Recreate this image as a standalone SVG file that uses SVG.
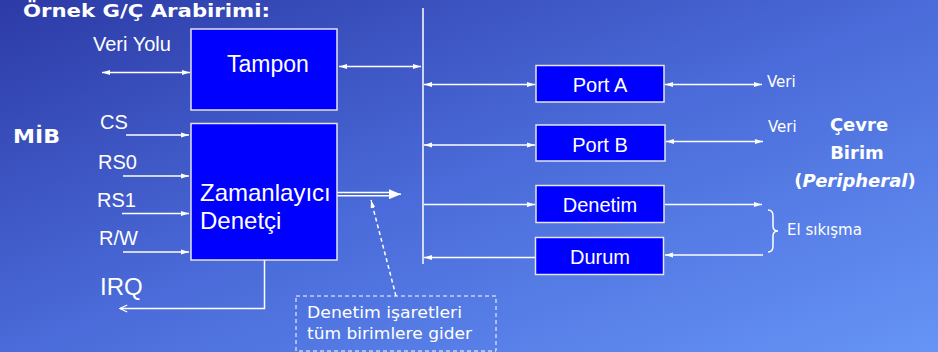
<svg xmlns="http://www.w3.org/2000/svg" width="938" height="352" viewBox="0 0 938 352">
<defs>
<linearGradient id="bg" x1="0" y1="0" x2="1" y2="1">
<stop offset="0" stop-color="#2c3aa6"/>
<stop offset="0.5" stop-color="#4a6bd9"/>
<stop offset="1" stop-color="#6694f6"/>
</linearGradient>
<marker id="ah" viewBox="0 0 10 6" refX="10" refY="3" markerWidth="8" markerHeight="6" orient="auto-start-reverse" markerUnits="userSpaceOnUse">
<path d="M0,0 L10,3 L0,6 z" fill="#fff"/>
</marker>
<marker id="big" viewBox="0 0 12 10" refX="12" refY="5" markerWidth="12" markerHeight="10" orient="auto" markerUnits="userSpaceOnUse">
<path d="M0,0 L12,5 L0,10 z" fill="#fff"/>
</marker>
<marker id="open" viewBox="0 0 10 10" refX="9" refY="5" markerWidth="9" markerHeight="9" orient="auto" markerUnits="userSpaceOnUse">
<path d="M1,1 L9,5 L1,9" fill="none" stroke="#fff" stroke-width="1.3"/>
</marker>
</defs>
<style>
.box{fill:#0000ff;stroke:#e4e4f0;stroke-width:1.5}
.ln{stroke:#fff;stroke-width:1.5;fill:none}
.t{fill:#fff;font-family:"Liberation Sans",Arial,sans-serif}
.c{fill:#fff;font-family:"DejaVu Sans","Noto Sans",sans-serif}
.cb{fill:#fff;font-family:"DejaVu Sans","Noto Sans",sans-serif;font-weight:bold}
</style>
<rect width="938" height="352" fill="url(#bg)"/>

<text class="cb" x="23" y="17" font-size="18" textLength="247" lengthAdjust="spacingAndGlyphs">Örnek G/Ç Arabirimi:</text>
<text class="cb" x="13" y="143" font-size="20" textLength="47" lengthAdjust="spacingAndGlyphs">MİB</text>

<g id="connectors">
<line class="ln" x1="423" y1="8" x2="423" y2="264" stroke-width="2"/>
<line class="ln" x1="102" y1="72.5" x2="190" y2="72.5" marker-start="url(#ah)" marker-end="url(#ah)"/>
<line class="ln" x1="339" y1="66.5" x2="421" y2="66.5" marker-start="url(#ah)" marker-end="url(#ah)"/>
<line class="ln" x1="126" y1="135" x2="189" y2="135" marker-end="url(#ah)"/>
<line class="ln" x1="123" y1="176" x2="189" y2="176" marker-end="url(#ah)"/>
<line class="ln" x1="122" y1="213.5" x2="189" y2="213.5" marker-end="url(#ah)"/>
<line class="ln" x1="123" y1="252" x2="189" y2="252" marker-end="url(#ah)"/>
<polyline class="ln" points="264.5,260 264.5,308.5 120,308.5" marker-end="url(#open)"/>
<line class="ln" x1="337" y1="192.5" x2="391" y2="192.5" stroke-width="1.3"/>
<line class="ln" x1="337" y1="195.8" x2="391" y2="195.8" stroke-width="1.3"/>
<line class="ln" x1="389" y1="194.2" x2="401" y2="194.2" stroke-width="1" marker-end="url(#big)"/>
<line class="ln" x1="396" y1="296" x2="371" y2="200" stroke-width="1" stroke-dasharray="4,3" marker-end="url(#ah)"/>
<line class="ln" x1="424" y1="84.5" x2="535" y2="84.5" marker-start="url(#ah)" marker-end="url(#ah)"/>
<line class="ln" x1="665" y1="84.5" x2="762" y2="84.5" marker-start="url(#ah)" marker-end="url(#ah)"/>
<line class="ln" x1="424" y1="145" x2="535" y2="145" marker-start="url(#ah)" marker-end="url(#ah)"/>
<line class="ln" x1="666" y1="141.5" x2="763" y2="141.5" marker-start="url(#ah)" marker-end="url(#ah)"/>
<line class="ln" x1="424" y1="204.5" x2="535" y2="204.5" marker-end="url(#ah)"/>
<line class="ln" x1="665" y1="204.5" x2="762" y2="204.5" marker-end="url(#ah)"/>
<line class="ln" x1="763" y1="255" x2="665" y2="255" marker-end="url(#ah)"/>
<line class="ln" x1="535" y1="257.5" x2="424" y2="257.5" marker-end="url(#ah)"/>
<path class="ln" stroke-width="1" d="M768,210 Q773,210 773,216 L773,226 Q773,231 778,231 Q773,231 773,236 L773,246 Q773,252 768,252"/>
</g>

<g id="tampon">
<rect class="box" x="191" y="29" width="146" height="81"/>
<text class="t" x="268" y="72" font-size="23" text-anchor="middle">Tampon</text>
</g>
<g id="zamanlayici">
<rect class="box" x="191" y="123.5" width="146" height="136.5"/>
<text class="t" x="200" y="201" font-size="24">Zamanlayıcı</text>
<text class="t" x="200" y="229" font-size="24">Denetçi</text>
</g>
<g id="portA">
<rect class="box" x="536" y="65.5" width="128" height="36.5"/>
<text class="t" x="600" y="92" font-size="20" text-anchor="middle">Port A</text>
</g>
<g id="portB">
<rect class="box" x="536" y="125" width="129" height="36"/>
<text class="t" x="600" y="151.5" font-size="20" text-anchor="middle">Port B</text>
</g>
<g id="denetim">
<rect class="box" x="536" y="185.5" width="128" height="37"/>
<text class="t" x="600" y="212" font-size="20" text-anchor="middle">Denetim</text>
</g>
<g id="durum">
<rect class="box" x="535.5" y="237.5" width="128" height="37"/>
<text class="t" x="600" y="264" font-size="20" text-anchor="middle">Durum</text>
</g>
<g id="note">
<rect x="296" y="296" width="200" height="55" fill="none" stroke="#fff" stroke-width="1" stroke-dasharray="4,3"/>
<text class="c" x="307" y="318" font-size="15" textLength="155" lengthAdjust="spacingAndGlyphs">Denetim işaretleri</text>
<text class="c" x="307" y="339" font-size="15" textLength="165" lengthAdjust="spacingAndGlyphs">tüm birimlere gider</text>
</g>

<g id="labels">
<text class="t" x="93" y="51" font-size="20">Veri Yolu</text>
<text class="t" x="100" y="129" font-size="20">CS</text>
<text class="t" x="98" y="169" font-size="20">RS0</text>
<text class="t" x="97" y="206.5" font-size="20">RS1</text>
<text class="t" x="99" y="245" font-size="20">R/W</text>
<text class="t" x="100" y="295" font-size="24">IRQ</text>
<text class="c" x="767" y="86.5" font-size="15">Veri</text>
<text class="c" x="768" y="132" font-size="15">Veri</text>
<text class="c" x="787" y="235" font-size="15">El sıkışma</text>
<text class="cb" x="859" y="131" font-size="18" text-anchor="middle">Çevre</text>
<text class="cb" x="857" y="159" font-size="18" text-anchor="middle">Birim</text>
<text class="cb" x="855" y="187" font-size="18" text-anchor="middle">(<tspan font-style="italic">Peripheral</tspan>)</text>
</g>
</svg>
